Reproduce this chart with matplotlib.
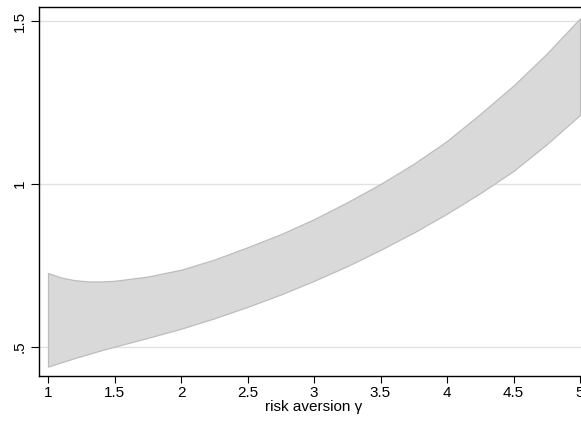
import matplotlib
matplotlib.use("Agg")
import matplotlib.pyplot as plt

plt.rcParams['font.family'] = ['Liberation Sans', 'DejaVu Sans']

gamma = [1.0, 1.1, 1.2, 1.3, 1.4, 1.5, 1.75, 2.0, 2.25, 2.5, 2.75, 3.0,
         3.25, 3.5, 3.75, 4.0, 4.25, 4.5, 4.75, 5.0]
upper = [0.727, 0.713, 0.705, 0.701, 0.701, 0.703, 0.716, 0.737, 0.768, 0.806,
         0.846, 0.892, 0.944, 1.000, 1.062, 1.132, 1.215, 1.302, 1.400, 1.508]
lower = [0.440, 0.453, 0.466, 0.478, 0.490, 0.501, 0.528, 0.556, 0.588, 0.623,
         0.661, 0.703, 0.748, 0.798, 0.851, 0.909, 0.972, 1.040, 1.122, 1.212]

xticks = [1, 1.5, 2, 2.5, 3, 3.5, 4, 4.5, 5]
xticklabels = ["1", "1.5", "2", "2.5", "3", "3.5", "4", "4.5", "5"]
yticks = [0.5, 1.0, 1.5]
yticklabels = [".5", "1", "1.5"]

fig = plt.figure(figsize=(5.81, 4.22), dpi=100)
ax = fig.add_axes([39/581, 46/422, 550/581, 369/422])

ax.set_xlim(1 - 9/133, 5 + 9/133)
ax.set_ylim(0.5 - 29/326, 1.5 + 14/326)

for y in yticks:
    ax.axhline(y, color="#e2e2e2", lw=1.0, zorder=1)

ax.fill_between(gamma, lower, upper, facecolor="#d9d9d9", edgecolor="#bdbdbd",
                lw=0.9, zorder=2)

ax.set_xticks(xticks)
ax.set_xticklabels(xticklabels, fontsize=11)
ax.set_yticks(yticks)
ax.set_yticklabels(yticklabels, fontsize=11, rotation=90, va="center")
ax.tick_params(axis="x", length=5, width=0.8, pad=2, color="black")
ax.tick_params(axis="y", length=6, width=0.8, pad=3, color="black")
ax.set_xlabel("risk aversion γ", fontsize=11, labelpad=0)

for s in ax.spines.values():
    s.set_linewidth(1.0)
    s.set_color("black")

fig.savefig("out.png", dpi=100)
